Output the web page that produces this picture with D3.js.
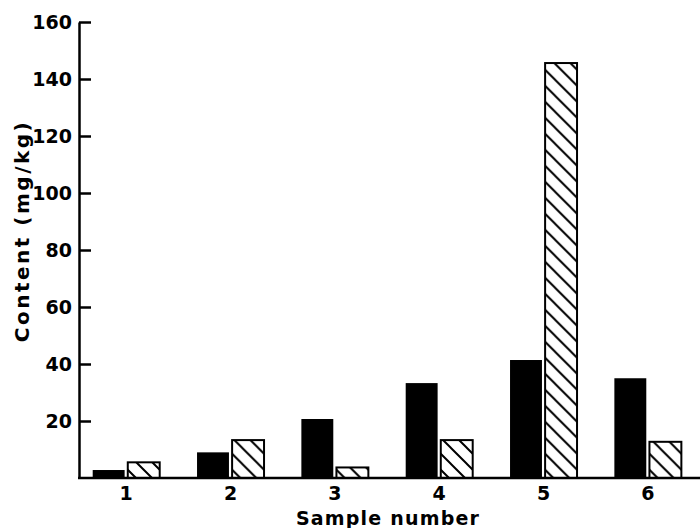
<!DOCTYPE html>
<html>
<head>
<meta charset="utf-8">
<script src="https://cdn.jsdelivr.net/npm/d3@7"></script>
<style>
  body { margin: 0; background: #fff; }
  svg { display: block; }
  text { font-family: "DejaVu Sans", sans-serif; font-weight: bold; fill: #000; }
</style>
</head>
<body>
<div id="chart"></div>
<script>
'use strict';
// values (mg/kg)
const samples = ["1", "2", "3", "4", "5", "6"];
const solidValues = [2.8, 9.0, 20.7, 33.3, 41.4, 35.0];
const hatchedValues = [5.5, 13.3, 3.7, 13.3, 145.6, 12.7];
const yTicks = [20, 40, 60, 80, 100, 120, 140, 160];

let width = 700, height = 528;
let marginLeft = 79, plotTop = 22, plotBottom = 478;

let svg = d3.select("#chart").append("svg")
  .attr("width", width)
  .attr("height", height);

// hatch pattern, "\" direction
let defs = svg.append("defs");
defs.append("pattern")
  .attr("id", "hatch")
  .attr("patternUnits", "userSpaceOnUse")
  .attr("width", 16)
  .attr("height", 16)
  .append("path")
  .attr("d", "M0,0L16,16M-4,12L4,20M12,-4L20,4")
  .attr("stroke", "#000")
  .attr("stroke-width", 2);

let data = samples.map(function (s, i) {
  return { key: s, values: [{ k: "solid", v: solidValues[i] }, { k: "hatched", v: hatchedValues[i] }] };
});

let x0 = d3.scaleBand().domain(samples).range([74, 700]).padding(0);
let x1 = d3.scaleBand().domain(["solid", "hatched"])
  .range([18.7, 85.7]).paddingInner(0.09);
let y = d3.scaleLinear().domain([0, 160]).range([plotBottom, plotTop]);

let groups = svg.append("g").selectAll("g")
  .data(data)
  .enter()
  .append("g")
  .attr("transform", function (d) { return "translate(" + x0(d.key) + ",0)"; });

groups.selectAll("rect")
  .data(function (d) { return d.values; })
  .enter()
  .append("rect")
  .attr("x", function (d) { return x1(d.k); })
  .attr("width", x1.bandwidth())
  .attr("y", function (d) { return y(d.v); })
  .attr("height", function (d) { return plotBottom - y(d.v); })
  .attr("fill", function (d) { return d.k === "solid" ? "#000" : "url(#hatch)"; })
  .attr("stroke", "#000")
  .attr("stroke-width", function (d) { return d.k === "solid" ? 0 : 2; });

// x axis: labels only, baseline drawn separately from the y axis
let xAxis = d3.axisBottom(x0).tickSize(0).tickPadding(8.5);
let gx = svg.append("g")
  .attr("transform", "translate(0," + plotBottom + ")")
  .call(xAxis);
gx.select(".domain").remove();
gx.selectAll("text").style("font-size", "19px").style("font-family", "DejaVu Sans").style("font-weight", "bold");

svg.append("line")
  .attr("x1", marginLeft - 1)
  .attr("x2", width)
  .attr("y1", plotBottom)
  .attr("y2", plotBottom)
  .attr("stroke", "#000")
  .attr("stroke-width", 2.5);

// y axis: ticks point inward
let yAxis = d3.axisLeft(y).tickValues(yTicks).tickSize(-12).tickSizeOuter(0).tickPadding(7);
let gy = svg.append("g")
  .attr("transform", "translate(" + marginLeft + ",0)")
  .call(yAxis);
gy.select(".domain").attr("stroke-width", 2.5);
gy.selectAll(".tick line").attr("stroke-width", 2.5);
gy.selectAll("text").style("font-size", "19px").style("font-family", "DejaVu Sans").style("font-weight", "bold");

svg.append("text")
  .attr("transform", "translate(29,231) rotate(-90)")
  .attr("text-anchor", "middle")
  .style("font-size", "20px")
  .style("letter-spacing", "2.5px")
  .text("Content (mg/kg)");

svg.append("text")
  .attr("x", 388)
  .attr("y", 525)
  .attr("text-anchor", "middle")
  .style("font-size", "19px")
  .style("letter-spacing", "1.2px")
  .text("Sample number");
</script>
</body>
</html>
